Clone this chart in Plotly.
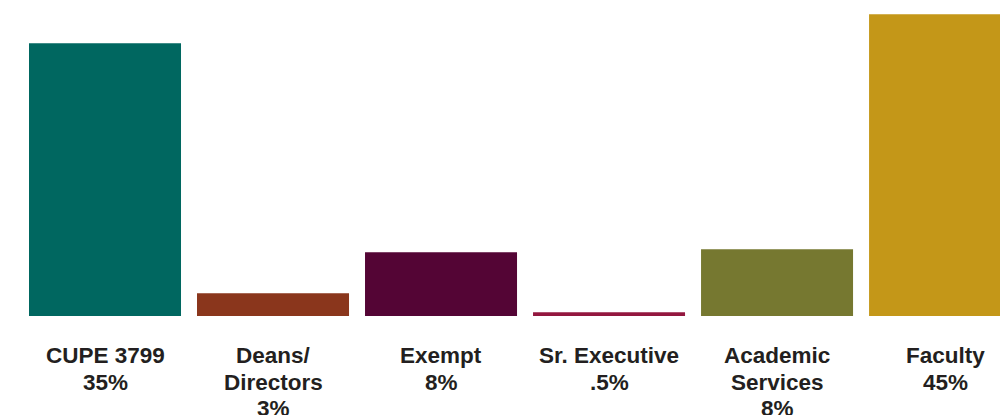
import plotly.graph_objects as go

categories = ["CUPE 3799", "Deans/ Directors", "Exempt", "Sr. Executive", "Academic Services", "Faculty"]
label_lines = [
    ["CUPE 3799", "35%"],
    ["Deans/", "Directors", "3%"],
    ["Exempt", "8%"],
    ["Sr. Executive", ".5%"],
    ["Academic", "Services", "8%"],
    ["Faculty", "45%"],
]
values = [272.7, 22.7, 63.7, 3.7, 66.7, 301.7]
colors = ["#006760", "#8A361C", "#540535", "#93173F", "#767830", "#C49718"]

fig = go.Figure()
fig.add_trace(go.Bar(
    x=list(range(len(categories))),
    y=values,
    marker=dict(color=colors, line=dict(width=0)),
    hovertext=categories,
    showlegend=False,
))

annotations = []
for i, lines in enumerate(label_lines):
    for k, line in enumerate(lines):
        annotations.append(dict(
            x=i, y=0, xref="x", yref="paper",
            text="<b>" + line + "</b>",
            showarrow=False,
            xanchor="center", yanchor="middle",
            yshift=-39.5 - 26.7 * k,
            font=dict(family="Liberation Sans, Arial, sans-serif", size=22.5, color="#231F20"),
        ))

fig.update_layout(
    width=1000, height=415,
    margin=dict(l=21, r=0, t=14, b=99),
    paper_bgcolor="white", plot_bgcolor="white",
    bargap=16 / 168,
    xaxis=dict(range=[-0.5, 5.327], visible=False, fixedrange=True),
    yaxis=dict(range=[0, 302], visible=False, fixedrange=True),
    annotations=annotations,
    hovermode=False,
)

fig.write_html(
    "out.html",
    config={"displayModeBar": False, "staticPlot": True},
    post_script="document.body.style.margin='0';document.body.style.overflow='hidden';",
)
